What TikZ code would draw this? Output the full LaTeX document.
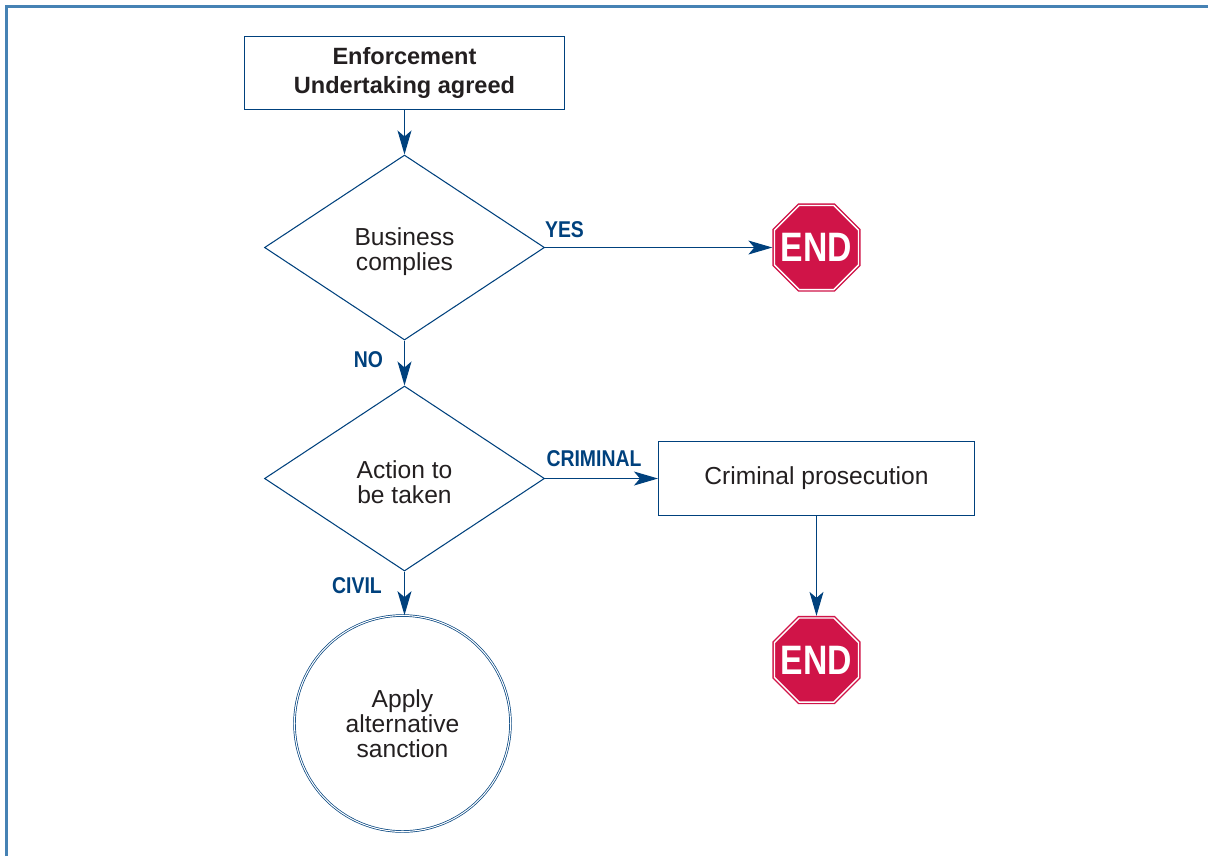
\documentclass[tikz,border=0pt]{standalone}
\usepackage{fontspec}
\setmainfont{Liberation Sans}
\newfontfamily\condfont[FakeStretch=0.85]{Liberation Sans Bold}
\newfontfamily\stopfont[FakeStretch=0.82]{Liberation Sans Bold}
\newcommand{\toplift}{\rule{0pt}{0.26cm}}
\usetikzlibrary{arrows.meta, positioning, shapes.geometric}
\definecolor{myblue}{RGB}{0,65,125}
\definecolor{myframe}{RGB}{70,130,180}
\definecolor{myred}{RGB}{208,20,72}
\definecolor{mytext}{RGB}{35,31,32}
\begin{document}
\begin{tikzpicture}[
    every node/.style={text=mytext,font=\fontsize{7}{7.1}\selectfont,align=center},
    box/.style={rectangle,draw=myblue,line width=0.3pt,inner sep=0pt},
    decision/.style={diamond,draw=myblue,line width=0.3pt,inner sep=0pt,minimum width=2.8cm,minimum height=1.85cm},
    sanction/.style={circle,draw=myblue,line width=0.2pt,double=white,double distance=0.3pt,inner sep=0pt,minimum size=2.16cm},
    stopsign/.style={regular polygon,regular polygon sides=8,inner sep=0pt,minimum size=0.91cm,outer sep=0.6pt,
        draw=myred,fill=myred,line width=0.4pt,double=white,double distance=0.4pt},
    stoptext/.style={text=white,font=\stopfont\fontsize{11.7}{12}\selectfont},
    arrow/.style={-{Stealth[length=0.24cm,width=0.14cm,inset=0.06cm]},draw=myblue,line width=0.3pt},
    answer/.style={text=myblue,font=\condfont\fontsize{6.5}{7}\selectfont}
]
    \useasboundingbox (0,0) rectangle (12.08,-8.56);

    % Frame, open at the right and at the bottom
    \draw[myframe,line width=0.6pt] (0.065,-8.56) -- (0.065,-0.065) -- (12.08,-0.065);

    % Nodes
    \node[box,minimum width=3.2cm,minimum height=0.73cm,font=\bfseries\fontsize{6.7}{8.5}\selectfont] (agreed) at (4.045,-0.73) {Enforcement\\Undertaking agreed};
    \node[decision] (complies) at (4.045,-2.475) {\toplift Business\\complies};
    \node[stopsign,label={[stoptext]center:END}] (endtop) at (8.165,-2.475) {};
    \node[decision] (action) at (4.045,-4.785) {\toplift Action to\\be taken};
    \node[box,minimum width=3.16cm,minimum height=0.74cm] (criminal) at (8.165,-4.785) {Criminal prosecution};
    \node[sanction] (alternative) at (4.025,-7.235) {Apply\\alternative\\sanction};
    \node[stopsign,label={[stoptext]center:END}] (endbottom) at (8.165,-6.6) {};

    % Connectors
    \draw[arrow] (agreed) -- (complies);
    \draw[arrow] (complies) -- (endtop);
    \draw[arrow] (complies) -- (action);
    \draw[arrow] (action) -- (criminal);
    \draw[arrow] (criminal) -- (endbottom);
    \draw[arrow] (action.south) -- (action.south |- alternative.north);

    % Answer labels
    \node[answer] (yes) at (5.645,-2.3) {YES};
    \node[answer] (no) at (3.685,-3.6) {NO};
    \node[answer] (crim) at (5.94,-4.59) {CRIMINAL};
    \node[answer] (civil) at (3.57,-5.86) {CIVIL};
\end{tikzpicture}
\end{document}
